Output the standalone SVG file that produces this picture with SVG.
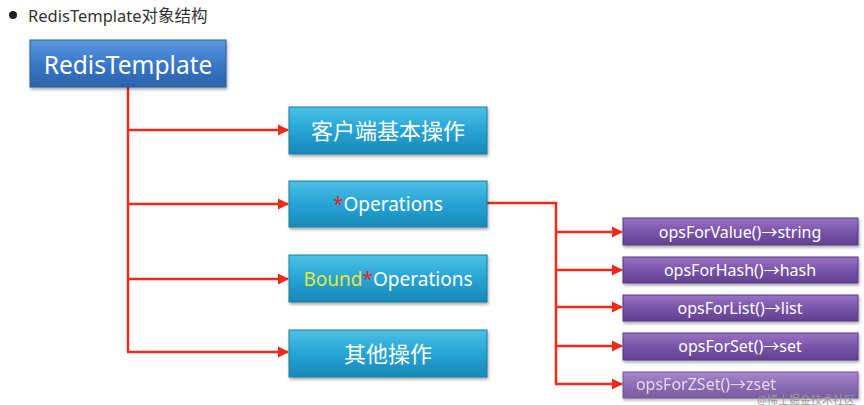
<svg xmlns="http://www.w3.org/2000/svg" width="864" height="405" viewBox="0 0 864 405">
<defs>
<linearGradient id="gBlue" x1="0" y1="0" x2="0" y2="1">
<stop offset="0" stop-color="#5b9be0"/><stop offset="0.5" stop-color="#3a78c8"/><stop offset="1" stop-color="#2a62ac"/>
</linearGradient>
<linearGradient id="gCyan" x1="0" y1="0" x2="0" y2="1">
<stop offset="0" stop-color="#4cc0e6"/><stop offset="0.5" stop-color="#27a4d4"/><stop offset="1" stop-color="#1888b8"/>
</linearGradient>
<linearGradient id="gPurple" x1="0" y1="0" x2="0" y2="1">
<stop offset="0" stop-color="#9a74c4"/><stop offset="0.5" stop-color="#7a54a8"/><stop offset="1" stop-color="#624090"/>
</linearGradient>
<filter id="sh" x="-10%" y="-20%" width="120%" height="150%">
<feDropShadow dx="1" dy="2" stdDeviation="1.5" flood-color="#000" flood-opacity="0.35"/>
</filter>
<marker id="arr" viewBox="0 0 10 10" refX="9" refY="5" markerWidth="4.5" markerHeight="4.5" orient="auto" markerUnits="strokeWidth">
<path d="M0,0 L10,5 L0,10 z" fill="#ee2a1a"/>
</marker>
</defs>
<style>
.t{font-family:"Noto Sans","Noto Sans CJK SC",sans-serif;fill:#fff;text-anchor:middle;dominant-baseline:central}
.blue{fill:url(#gBlue);stroke:#2a5a98;stroke-width:1;filter:url(#sh)}
.cyan{fill:url(#gCyan);stroke:#17809f;stroke-width:1;filter:url(#sh)}
.purple{fill:url(#gPurple);stroke:#55388a;stroke-width:1;filter:url(#sh)}
.c{fill:none;stroke:#ee2a1a;stroke-width:2.5}
.a{marker-end:url(#arr)}
</style>
<rect width="864" height="405" fill="#fff"/>
<g id="title">
<circle cx="13" cy="15" r="4" fill="#222"/>
<text x="28" y="15" font-family="'Noto Sans','Noto Sans CJK SC',sans-serif" font-size="16.5" fill="#333" dominant-baseline="central">RedisTemplate对象结构</text>
</g>
<g id="connectors">
<path class="c" d="M128,87 V352"/>
<path class="c a" d="M127,130 H288"/>
<path class="c a" d="M127,204 H288"/>
<path class="c a" d="M127,279 H288"/>
<path class="c a" d="M127,352 H288"/>
<path class="c" d="M487,203 H556 V384"/>
<path class="c a" d="M555,232 H622"/>
<path class="c a" d="M555,270 H622"/>
<path class="c a" d="M555,307 H622"/>
<path class="c a" d="M555,346 H622"/>
<path class="c a" d="M555,384 H622"/>
</g>
<g id="redisTemplate">
<rect class="blue" x="30" y="40" width="196" height="47"/>
<text class="t" x="128" y="64" font-size="24.5">RedisTemplate</text>
</g>
<g id="client">
<rect class="cyan" x="289" y="107" width="198" height="47"/>
<text class="t" x="388" y="130" font-size="22">客户端基本操作</text>
</g>
<g id="operations">
<rect class="cyan" x="289" y="181" width="198" height="46"/>
<text class="t" x="388" y="204" font-size="19"><tspan fill="#ee2020">*</tspan>Operations</text>
</g>
<g id="boundOperations">
<rect class="cyan" x="289" y="255" width="198" height="47"/>
<text class="t" x="388" y="279" font-size="19"><tspan fill="#e6e83c">Bound</tspan><tspan fill="#ee2020">*</tspan>Operations</text>
</g>
<g id="other">
<rect class="cyan" x="289" y="330" width="198" height="47"/>
<text class="t" x="388" y="353" font-size="22">其他操作</text>
</g>
<g id="opsValue">
<rect class="purple" x="623" y="218" width="235" height="27"/>
<text class="t" x="740" y="232" font-size="16">opsForValue()→string</text>
</g>
<g id="opsHash">
<rect class="purple" x="623" y="257" width="235" height="26"/>
<text class="t" x="740" y="270" font-size="16">opsForHash()→hash</text>
</g>
<g id="opsList">
<rect class="purple" x="623" y="295" width="235" height="26"/>
<text class="t" x="740" y="308" font-size="16">opsForList()→list</text>
</g>
<g id="opsSet">
<rect class="purple" x="623" y="333" width="235" height="27"/>
<text class="t" x="740" y="346" font-size="16">opsForSet()→set</text>
</g>
<g id="opsZSet">
<rect class="purple" x="623" y="372" width="235" height="26" opacity="0.85"/>
<text class="t" x="706" y="384" font-size="16" opacity="0.75">opsForZSet()→zset</text>
<text x="806" y="399" font-family="'Noto Sans','Noto Sans CJK SC',sans-serif" font-size="11" fill="#9a9a9a" text-anchor="middle" dominant-baseline="central">@稀土掘金技术社区</text>
</g>
</svg>
